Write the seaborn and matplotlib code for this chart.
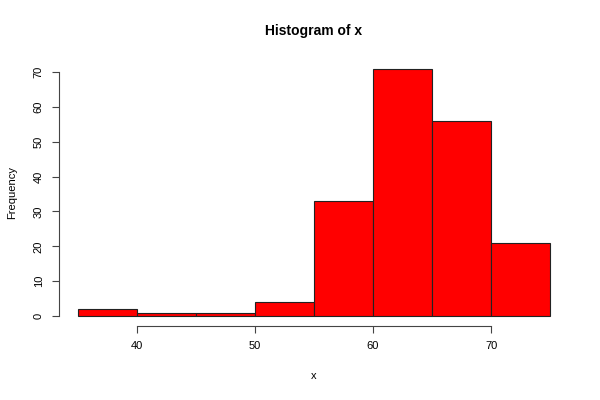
import numpy as np
import pandas as pd
from matplotlib import pyplot as plt
import seaborn as sns

# bin edges and counts
bin_edges = [35, 40, 45, 50, 55, 60, 65, 70, 75]
counts = [2, 1, 1, 4, 33, 71, 56, 21]
mids = [(a + b) / 2 for a, b in zip(bin_edges[:-1], bin_edges[1:])]

df = pd.DataFrame({'x': mids, 'n': counts})

sns.set_style('ticks')
plt.rcParams['font.family'] = ['Liberation Sans', 'DejaVu Sans']
plt.rcParams['text.color'] = 'black'
plt.rcParams['axes.labelcolor'] = 'black'
plt.rcParams['xtick.labelcolor'] = 'black'
plt.rcParams['ytick.labelcolor'] = 'black'

fig = plt.figure(figsize=(6, 4), dpi=100)
ax = fig.add_axes([0.0983, 0.185, 0.85, 0.6685])

sns.histplot(data=df, x='x', weights='n', bins=bin_edges, ax=ax,
             color='#ff0000', alpha=1, edgecolor='#222222', linewidth=0.8)

ax.set_xlim(33.4, 76.6)
ax.set_ylim(-2.84, 73.84)
ax.set_xticks([40, 50, 60, 70])
ax.set_yticks(range(0, 71, 10))
ax.spines['top'].set_visible(False)
ax.spines['right'].set_visible(False)
ax.spines['bottom'].set_bounds(40, 70)
ax.spines['left'].set_bounds(0, 70)
for s in ('bottom', 'left'):
    ax.spines[s].set_color('#444444')
    ax.spines[s].set_linewidth(0.8)
ax.tick_params(length=5, width=0.8, color='#444444', labelsize=8, pad=6)
plt.setp(ax.get_yticklabels(), rotation=90, va='center')

ax.set_title('Histogram of x', fontsize=10, fontweight='bold', pad=17, color='black')
ax.set_xlabel('x', fontsize=8, labelpad=14)
ax.set_ylabel('Frequency', fontsize=8, labelpad=12)

fig.savefig('out.png', dpi=100)
